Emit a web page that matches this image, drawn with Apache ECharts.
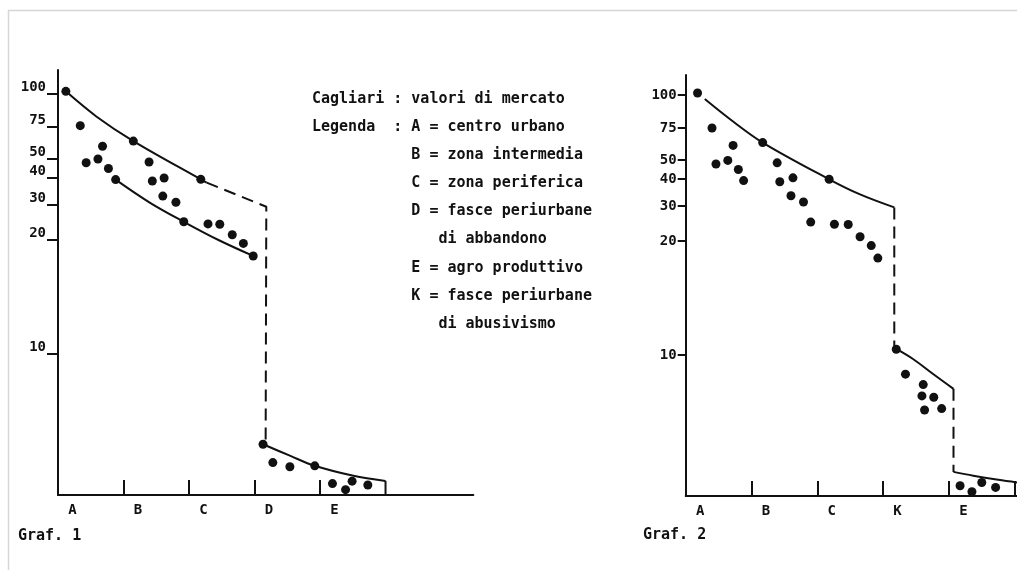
<!DOCTYPE html>
<html>
<head>
<meta charset="utf-8">
<script src="https://cdn.jsdelivr.net/npm/echarts@6/dist/echarts.min.js"></script>
<style>
  html, body { margin: 0; padding: 0; background: #fff; }
  #chart { width: 1017px; height: 570px; }
</style>
</head>
<body>
<div id="chart"></div>
<script>
// ---------------- DATA ----------------
// y tick labels (market value index)
const yTickLabels = [10, 20, 30, 40, 50, 75, 100];
// zone labels on the x axis (one per zone)
const zones1 = ['A', 'B', 'C', 'D', 'E'];
const zones2 = ['A', 'B', 'C', 'K', 'E'];

// Graf. 1 — observations [zone position, value]
const g1Dots = [
  [0.12, 102], [0.34, 76], [0.43, 48], [0.68, 60], [0.61, 50], [0.77, 45], [0.88, 39.4],
  [1.15, 64], [1.39, 48.4], [1.44, 38.9], [1.62, 40], [1.60, 33.3], [1.80, 31], [1.92, 25.2],
  [2.18, 39.5], [2.29, 24.6], [2.47, 24.5], [2.66, 21.5], [2.83, 19.7], [2.98, 18.6],
  [3.13, 3.6], [3.28, 2.3], [3.54, 2.0], [3.92, 2.07],
  [4.19, 0.81], [4.39, 0.38], [4.49, 0.98], [4.73, 0.71]
];
const g1Upper = [[0.12, 102], [0.59, 82.8], [1.15, 64], [2.18, 39.5], [2.27, 38.3]];
const g1UpperDash = [[2.27, 38.3], [3.18, 29.5], [3.17, 3.9]];
const g1Lower = [[0.88, 39.4], [1.40, 30.9], [1.92, 25.2], [2.45, 20], [2.98, 18.6]];
const g1Outer = [[3.13, 3.6], [3.54, 2.79], [3.92, 2.07], [4.51, 1.36], [5.0, 1.0]];
const g1OuterDrop = [[5.0, 1.0], [5.0, 0]];

// Graf. 2 — observations [zone position, value]
const g2Dots = [
  [0.18, 101.5], [0.40, 75], [0.46, 47.9], [0.72, 61.4], [0.64, 49.8], [0.80, 45], [0.88, 39.4],
  [1.17, 63.6], [1.39, 48.5], [1.43, 39], [1.63, 40.6], [1.60, 33.8], [1.79, 31.5], [1.90, 25.4],
  [2.18, 39.9], [2.26, 24.8], [2.47, 24.7], [2.65, 21.2], [2.82, 19.6], [2.92, 18.5],
  [3.20, 10.5], [3.34, 8.64], [3.61, 7.9], [3.59, 7.1], [3.77, 7.0], [3.63, 6.1], [3.89, 6.2],
  [4.17, 0.73], [4.35, 0.3], [4.50, 0.96], [4.71, 0.61]
];
const g2Upper = [[0.29, 96.9], [0.67, 81.8], [1.17, 63.6], [2.18, 39.9], [2.65, 34.3], [3.17, 29.6]];
const g2UpperDash = [[3.17, 29.6], [3.17, 10.6]];
const g2K = [[3.18, 10.6], [3.46, 9.7], [3.76, 8.65], [4.07, 7.6]];
const g2KDash = [[4.07, 7.6], [4.07, 1.71]];
const g2E = [[4.07, 1.71], [4.37, 1.44], [4.75, 1.15], [5.04, 0.96]];

const legendLines = [
  'Cagliari : valori di mercato',
  'Legenda  : A = centro urbano',
  '           B = zona intermedia',
  '           C = zona periferica',
  '           D = fasce periurbane',
  '              di abbandono',
  '           E = agro produttivo',
  '           K = fasce periurbane',
  '              di abusivismo'
];

// ---------------- SCALE (hand-drawn, non-uniform value axis) ----------------
const yScaleVals = [0, 10, 20, 30, 40, 50, 75, 100];
const yScalePos  = [0, 141, 255, 290, 317, 336, 368, 401];
function toAxis(v) {
  const n = yScaleVals.length;
  for (let i = 1; i < n; i++) {
    if (v <= yScaleVals[i] || i === n - 1) {
      const a = yScaleVals[i - 1], b = yScaleVals[i];
      return yScalePos[i - 1] + (v - a) / (b - a) * (yScalePos[i] - yScalePos[i - 1]);
    }
  }
}
const tr = arr => arr.map(p => [p[0], toAxis(p[1])]);
const yTickPos = yTickLabels.map(toAxis);
function yLabel(v) {
  let best = 0, d = Infinity;
  yTickPos.forEach((p, i) => { if (Math.abs(p - v) < d) { d = Math.abs(p - v); best = i; } });
  return String(yTickLabels[best]);
}

// ---------------- STYLE ----------------
const INK = '#111111';
const FONT = '"DejaVu Sans Mono", "Liberation Mono", monospace';
const LABEL_OFF = 0.22;

function xAxis(gi, max, ticks, zones) {
  return {
    type: 'value', gridIndex: gi, min: 0, max: max,
    axisLine: { show: true, onZero: false, lineStyle: { color: INK, width: 2 } },
    splitLine: { show: false },
    axisTick: { show: true, inside: true, length: 15, customValues: ticks,
                lineStyle: { color: INK, width: 2 } },
    axisLabel: { show: true, customValues: zones.map((z, i) => i + LABEL_OFF),
                 formatter: v => zones[Math.round(v - LABEL_OFF)],
                 color: INK, fontFamily: FONT, fontSize: 14, fontWeight: 'bold', margin: 8 }
  };
}
function yAxis(gi, max, vAlign, margin, tickLen) {
  return {
    type: 'value', gridIndex: gi, min: 0, max: max,
    axisLine: { show: true, onZero: false, lineStyle: { color: INK, width: 2 } },
    splitLine: { show: false },
    axisTick: { show: true, length: tickLen, customValues: yTickPos,
                lineStyle: { color: INK, width: 2 } },
    axisLabel: { show: true, customValues: yTickPos, formatter: yLabel,
                 verticalAlign: vAlign, margin: margin,
                 color: INK, fontFamily: FONT, fontSize: 14, fontWeight: 'bold' }
  };
}
function line(data, gi, dashed, smooth) {
  return {
    type: 'line', xAxisIndex: gi, yAxisIndex: gi, data: tr(data),
    showSymbol: false, smooth: smooth ? 0.35 : false, silent: true,
    lineStyle: { color: INK, width: 2, type: dashed ? [12, 7] : 'solid' }
  };
}
function dots(data, gi) {
  return {
    type: 'scatter', xAxisIndex: gi, yAxisIndex: gi, data: tr(data),
    symbol: 'circle', symbolSize: 9, itemStyle: { color: INK, opacity: 1 }, silent: true
  };
}

const chart = echarts.init(document.getElementById('chart'), null, { renderer: 'canvas' });
chart.setOption({
  backgroundColor: '#ffffff',
  animation: false,
  grid: [
    { left: 58, top: 70, width: 415.3, height: 425 },
    { left: 685.7, top: 75, width: 331.3, height: 421 }
  ],
  xAxis: [
    xAxis(0, 6.34, [1, 2, 3, 4], zones1),
    xAxis(1, 5.035, [1, 2, 3, 4, 5], zones2)
  ],
  yAxis: [
    yAxis(0, 425, 'bottom', 12, 11),
    yAxis(1, 421, 'middle', 9, 8)
  ],
  series: [
    dots(g1Dots, 0),
    line(g1Upper, 0, false, true),
    line(g1UpperDash, 0, true, false),
    line(g1Lower, 0, false, true),
    line(g1Outer, 0, false, true),
    line(g1OuterDrop, 0, false, false),
    dots(g2Dots, 1),
    line(g2Upper, 1, false, true),
    line(g2UpperDash, 1, true, false),
    line(g2K, 1, false, true),
    line(g2KDash, 1, true, false),
    line(g2E, 1, false, true)
  ],
  graphic: [
    { type: 'line', silent: true, shape: { x1: 8, y1: 10.5, x2: 1017, y2: 10.5 },
      style: { stroke: '#d6d6d6', lineWidth: 1.5 } },
    { type: 'line', silent: true, shape: { x1: 8.5, y1: 10, x2: 8.5, y2: 570 },
      style: { stroke: '#d6d6d6', lineWidth: 1.5 } },
    { type: 'text', left: 312, top: 85, silent: true,
      style: { text: legendLines.join('\n'), fill: INK, font: 'bold 15px ' + FONT, lineHeight: 28.1 } },
    { type: 'text', left: 18, top: 529, silent: true,
      style: { text: 'Graf. 1', fill: INK, font: 'bold 15px ' + FONT } },
    { type: 'text', left: 643, top: 528, silent: true,
      style: { text: 'Graf. 2', fill: INK, font: 'bold 15px ' + FONT } }
  ]
});
</script>
</body>
</html>
